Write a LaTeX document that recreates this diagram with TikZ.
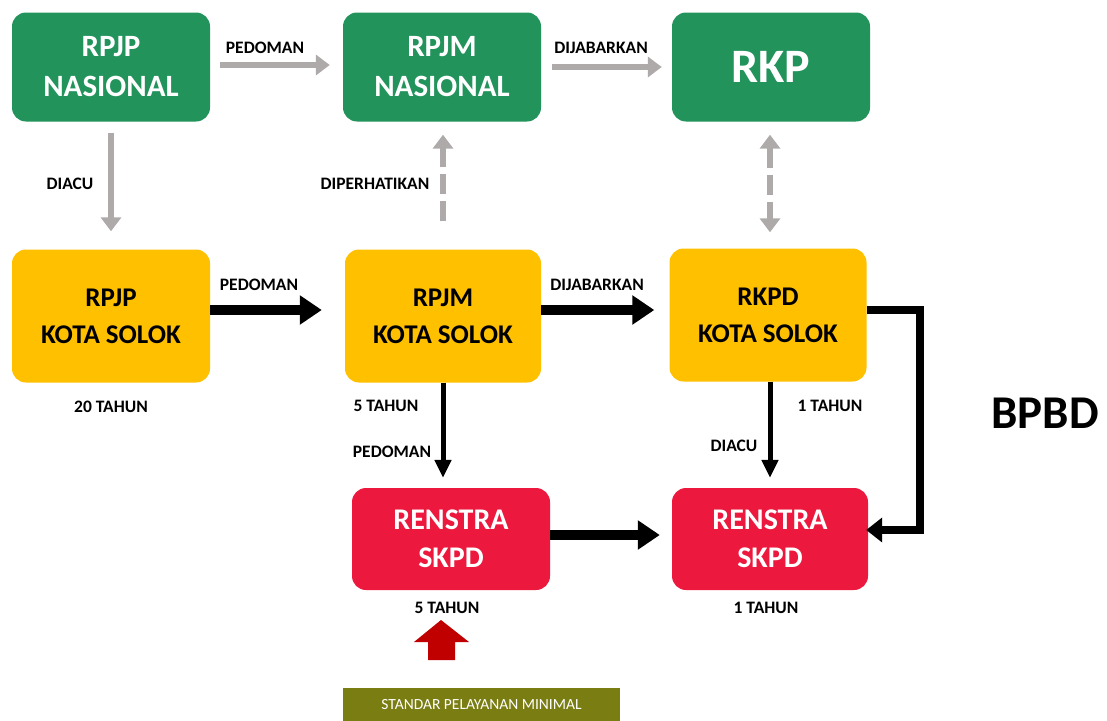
\documentclass[tikz,border=0pt]{standalone}
\usepackage{fontspec}
\setmainfont{Carlito}
\usetikzlibrary{arrows.meta}
\definecolor{hijau}{RGB}{33,147,91}
\definecolor{kuning}{RGB}{255,192,0}
\definecolor{merah}{RGB}{237,24,61}
\definecolor{zaitun}{RGB}{122,125,18}
\definecolor{abu}{RGB}{174,170,170}
\definecolor{merahtua}{RGB}{192,0,0}
\tikzset{
  kotak/.style={rounded corners=14pt, minimum width=198pt, minimum height=109pt, inner sep=0pt, align=center},
  ket/.style={inner sep=0pt, font=\fontsize{17.5}{20}\selectfont\bfseries},
  panahabu/.style={draw=abu, line width=6pt, -{Triangle[width=20pt,length=14pt]}},
  panahhitam/.style={draw=black, line width=10pt, -{Triangle[width=28pt,length=22pt]}},
  panahtipis/.style={draw=black, line width=5pt, -{Triangle[width=16pt,length=18pt]}}
}

\begin{document}
\begin{tikzpicture}[x=1pt,y=-1pt]
    \useasboundingbox (0,0) rectangle (1107,720);
    % baris nasional
    \node [kotak, fill=hijau, text=white, font=\fontsize{31}{40}\selectfont\bfseries] (rpjpnas) at (111,67) {RPJP\\NASIONAL};
    \node [kotak, fill=hijau, text=white, font=\fontsize{31}{40}\selectfont\bfseries] (rpjmnas) at (442,67) {RPJM\\NASIONAL};
    \node [kotak, fill=hijau, text=white, font=\fontsize{48}{50}\selectfont\bfseries] (rkp) at (771,67) {RKP};
    % baris kota
    \node [kotak, minimum height=133pt, fill=kuning, font=\fontsize{27}{37}\selectfont\bfseries] (rpjpkota) at (111,316) {RPJP\\KOTA SOLOK};
    \node [kotak, minimum height=133pt, minimum width=196pt, fill=kuning, font=\fontsize{27}{37}\selectfont\bfseries] (rpjmkota) at (443,316) {RPJM\\KOTA SOLOK};
    \node [kotak, minimum height=133pt, minimum width=197pt, fill=kuning, font=\fontsize{27}{37}\selectfont\bfseries] (rkpd) at (768,315) {RKPD\\KOTA SOLOK};
    % renstra
    \node [kotak, minimum height=102pt, fill=merah, text=white, font=\fontsize{30}{38}\selectfont\bfseries] (renstraA) at (451,539) {RENSTRA\\SKPD};
    \node [kotak, minimum height=102pt, minimum width=196pt, fill=merah, text=white, font=\fontsize{30}{38}\selectfont\bfseries] (renstraB) at (770,539) {RENSTRA\\SKPD};
    \node [fill=zaitun, text=white, minimum width=277pt, minimum height=34pt, inner sep=0pt, font=\fontsize{15.5}{18}\selectfont] (spm) at (481.5,705) {STANDAR PELAYANAN MINIMAL};
    \node [font=\fontsize{47}{50}\selectfont\bfseries, inner sep=0pt] (bpbd) at (1045,413) {BPBD};
    % panah abu-abu
    \draw [panahabu, shorten <=10pt, shorten >=13pt] ([yshift=2pt]rpjpnas.east) -- ([yshift=2pt]rpjmnas.west);
    \draw [panahabu, shorten <=11pt, shorten >=10pt] (rpjmnas.east) -- (rkp.west);
    \draw [panahabu, shorten <=11pt, shorten >=18pt] (rpjpnas.south) -- (rpjpkota.north);
    \draw [panahabu, dash pattern=on 20pt off 7pt, shorten <=28pt, shorten >=13pt] (rpjmkota.north) -- (rpjmkota.north |- rpjmnas.south);
    \draw [panahabu, dash pattern=on 20pt off 7pt, {Triangle[width=20pt,length=14pt]}-{Triangle[width=20pt,length=14pt]}, shorten <=13pt, shorten >=16pt] ([xshift=-1pt]rkp.south) -- ([xshift=-1pt]rkp.south |- rkpd.north);
    % panah hitam
    \draw [panahhitam, shorten >=23pt] ([yshift=6pt]rpjpkota.east) -- ([yshift=6pt]rpjmkota.west);
    \draw [panahhitam, shorten >=15pt] ([yshift=6pt]rpjmkota.east) -- ([yshift=5pt]rkpd.west);
    \draw [panahhitam, shorten >=12pt] ([yshift=4pt]renstraA.east) -- ([yshift=4pt]renstraB.west);
    \draw [panahtipis, shorten >=10pt] (rpjmkota.south) -- (rpjmkota.south |- renstraA.north);
    \draw [panahtipis, shorten >=10pt] ([xshift=2pt]rkpd.south) -- ([xshift=2pt]rkpd.south |- renstraB.north);
    \draw [draw=black, line width=8pt, -{Triangle[width=24pt,length=16pt]}] ([yshift=5pt]rkpd.east) -- ++(53,0) |- ([yshift=9pt,xshift=-2pt]renstraB.east);
    % panah merah
    \fill [merahtua] (428,660) -- (455,660) -- (455,642) -- (469,642) -- (441,620) -- (414,642) -- (428,642) -- cycle;
    % keterangan
    \node [ket] (l1) at (265,48) {PEDOMAN};
    \node [ket] (l2) at (601,48) {DIJABARKAN};
    \node [ket] (l3) at (70,184) {DIACU};
    \node [ket] (l4) at (375,184) {DIPERHATIKAN};
    \node [ket] (l5) at (259,285) {PEDOMAN};
    \node [ket] (l6) at (597,285) {DIJABARKAN};
    \node [ket] (l7) at (111,407) {20 TAHUN};
    \node [ket] (l8) at (386,406) {5 TAHUN};
    \node [ket] (l9) at (392,452) {PEDOMAN};
    \node [ket] (l10) at (830,406) {1 TAHUN};
    \node [ket] (l11) at (734,446) {DIACU};
    \node [ket] (l12) at (447,608) {5 TAHUN};
    \node [ket] (l13) at (766,608) {1 TAHUN};
\end{tikzpicture}
\end{document}
